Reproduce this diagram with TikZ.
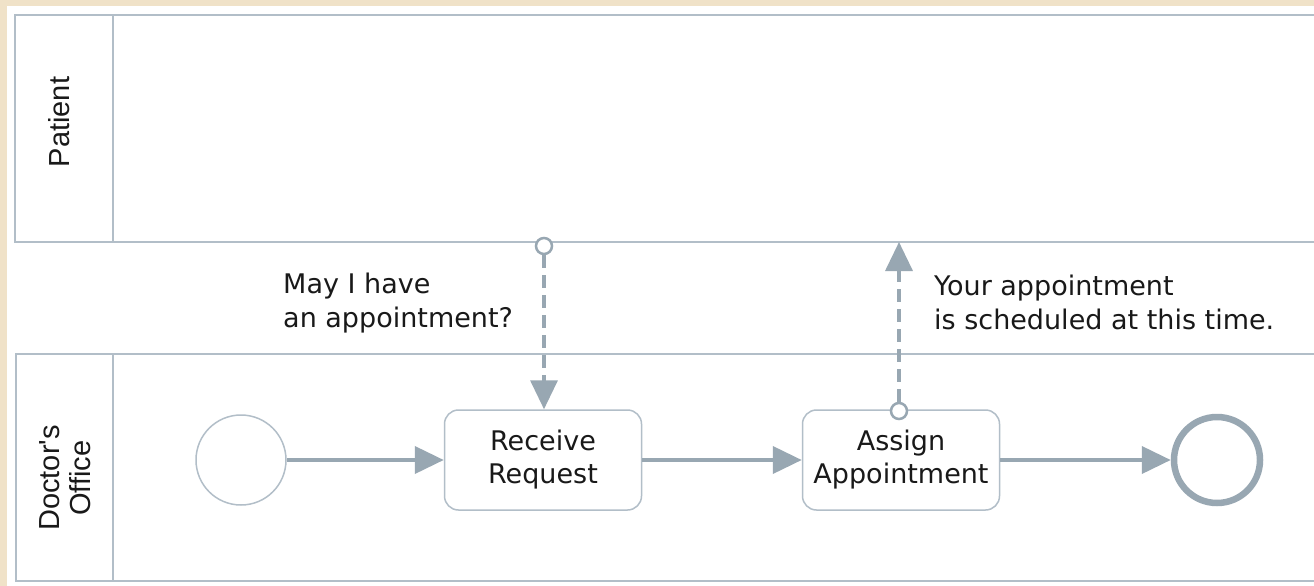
\documentclass[tikz,border=0pt]{standalone}
\usepackage{fontspec}
\setmainfont{DejaVu Sans}
\newfontfamily\poolfont{Liberation Sans}
\usetikzlibrary{arrows.meta}
\definecolor{parch}{RGB}{240,226,200}
\definecolor{poolline}{RGB}{178,190,200}
\definecolor{flowgray}{RGB}{152,167,178}
\definecolor{txt}{RGB}{25,25,25}
\tikzset{
  pool/.style={draw=poolline, line width=1.5pt},
  pooltext/.style={font=\poolfont\fontsize{29}{31}\selectfont, text=txt, rotate=90, align=center, inner sep=0pt},
  task/.style={draw=poolline, line width=1.5pt, fill=white, rounded corners=14pt, minimum width=197pt, minimum height=100pt, align=center, font=\fontsize{27}{33}\selectfont, text=txt, inner sep=0pt},
  startev/.style={circle, draw=poolline, line width=1.5pt, fill=white, minimum size=90pt, inner sep=0pt},
  endev/.style={circle, draw=flowgray, line width=6.5pt, fill=white, minimum size=86pt, inner sep=0pt},
  msgstart/.style={circle, draw=flowgray, line width=2.5pt, fill=white, minimum size=16pt, inner sep=0pt},
  seqflow/.style={draw=flowgray, line width=4pt, -{Triangle[length=29pt,width=27pt]}},
  msgflow/.style={draw=flowgray, line width=3.5pt, dash pattern=on 13pt off 7pt, -{Triangle[length=29pt,width=27pt]}},
  msgtext/.style={font=\fontsize{27}{34}\selectfont, text=txt, align=left, inner sep=0pt, anchor=west}
}
\begin{document}
\begin{tikzpicture}[x=1pt,y=-1pt]
\useasboundingbox (0,0) rectangle (1314,586);
\clip (0,0) rectangle (1314,586);
\fill[parch] (0,0) rectangle (1314,586);
\fill[white] (7,6) rectangle (1320,590);
% pools
\draw[pool] (1330,15) -- (15,15) -- (15,242) -- (1330,242);
\draw[pool] (113,15) -- (113,242);
\draw[pool] (1330,354) -- (16,354) -- (16,581) -- (1330,581);
\draw[pool] (113,354) -- (113,581);
\node[pooltext] (plab) at (59,122) {Patient};
\node[pooltext] (dlab) at (65,478) {Doctor's\\Office};
% flow nodes
\node[startev] (start) at (241,460) {};
\node[task] (recv) at (543,460) {Receive\\Request};
\node[task] (assign) at (901,460) {Assign\\Appointment};
\node[endev] (end) at (1217,460) {};
\coordinate (pbottom2) at (899,242);
\node[msgstart] (m1) at (544,246) {};
\node[msgstart] (m2) at (899,411) {};
% sequence flows
\draw[seqflow] (start) -- (recv);
\draw[seqflow] (recv) -- (assign);
\draw[seqflow] (assign) -- (end);
% message flows
\draw[msgflow] (m1) -- (m1 |- recv.north);
\draw[msgflow] (m2) -- (pbottom2);
% labels
\node[msgtext] (t1) at (283,303) {May I have\\an appointment?};
\node[msgtext] (t2) at (934,302) {Your appointment\\is scheduled at this time.};
\end{tikzpicture}
\end{document}
